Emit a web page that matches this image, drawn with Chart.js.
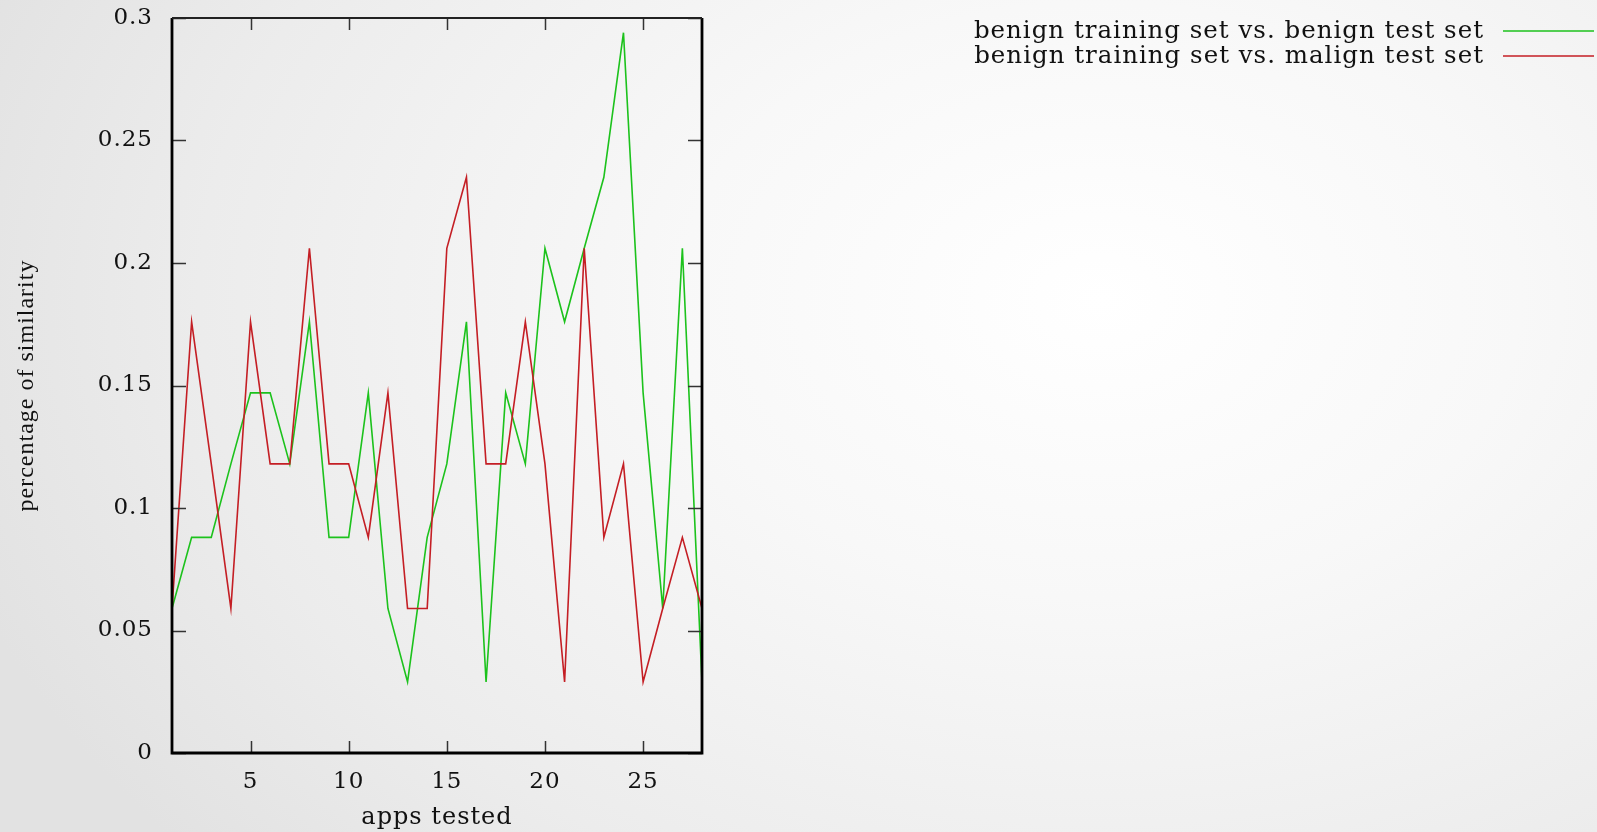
<!DOCTYPE html>
<html>
<head>
<meta charset="utf-8">
<title>apps tested vs similarity</title>
<script src="https://cdn.jsdelivr.net/npm/chart.js@4.4.1/dist/chart.umd.min.js"></script>
<style>
    html, body {
        margin: 0;
        padding: 0;
        width: 1597px;
        height: 832px;
        overflow: hidden;
    }
    body {
        background: radial-gradient(ellipse 1200px 850px at 1100px 300px, #ffffff 0%, #f8f8f8 35%, #ececec 75%, #e2e2e2 100%);
    }
    #wrap {
        position: absolute;
        left: 0;
        top: 0;
        width: 1597px;
        height: 832px;
    }
</style>
</head>
<body>
<div id="wrap"><canvas id="simChart"></canvas></div>
<script>
const appsTested = [1, 2, 3, 4, 5, 6, 7, 8, 9, 10, 11, 12, 13, 14, 15, 16, 17, 18, 19, 20, 21, 22, 23, 24, 25, 26, 27, 28];

const benignVsBenign = [0.059, 0.088, 0.088, 0.118, 0.147, 0.147, 0.118, 0.176, 0.088, 0.088, 0.147, 0.059, 0.029, 0.088,
    0.118, 0.176, 0.029, 0.147, 0.118, 0.206, 0.176, 0.206, 0.235, 0.294, 0.147, 0.059, 0.206, 0.029];

const benignVsMalign = [0.059, 0.176, 0.118, 0.059, 0.176, 0.118, 0.118, 0.206, 0.118, 0.118, 0.088, 0.147, 0.059, 0.059,
    0.206, 0.235, 0.118, 0.118, 0.176, 0.118, 0.029, 0.206, 0.088, 0.118, 0.029, 0.059, 0.088, 0.059];

const seriesLabels = ['benign training set vs. benign test set', 'benign training set vs. malign test set'];
const xTicks = [5, 10, 15, 20, 25];
const yTicks = [0, 0.05, 0.1, 0.15, 0.2, 0.25, 0.3];

const GREEN = '#1cc21c';
const RED = '#c41e24';
const SERIF = '"DejaVu Serif", serif';

const toPoints = values => appsTested.map((x, i) => ({ x: x, y: values[i] }));

// the reference font is wider than anything installed, so space the letters a little
const spacingPlugin = {
    id: 'spacing',
    beforeInit(chart) { chart.ctx.letterSpacing = '1px'; },
    beforeUpdate(chart) { chart.ctx.letterSpacing = '1px'; },
    beforeDraw(chart) { chart.ctx.letterSpacing = '1px'; }
};

// gnuplot style frame with inward ticks on all four sides
const framePlugin = {
    id: 'frame',
    afterDatasetsDraw(chart) {
        const { ctx, chartArea: a, scales } = chart;
        ctx.save();
        ctx.strokeStyle = '#333';
        ctx.lineWidth = 1.5;
        ctx.beginPath();
        xTicks.forEach(v => {
            const px = Math.round(scales.x.getPixelForValue(v)) + 0.5;
            ctx.moveTo(px, a.bottom); ctx.lineTo(px, a.bottom - 12);
            ctx.moveTo(px, a.top); ctx.lineTo(px, a.top + 12);
        });
        yTicks.forEach(v => {
            const py = Math.round(scales.y.getPixelForValue(v)) + 0.5;
            ctx.moveTo(a.left, py); ctx.lineTo(a.left + 14, py);
            ctx.moveTo(a.right, py); ctx.lineTo(a.right - 14, py);
        });
        ctx.stroke();

        ctx.strokeStyle = '#000';
        ctx.lineWidth = 2.8;
        ctx.beginPath();
        ctx.moveTo(a.left, a.top);
        ctx.lineTo(a.left, a.bottom);
        ctx.lineTo(a.right, a.bottom);
        ctx.lineTo(a.right, a.top);
        ctx.stroke();
        ctx.strokeStyle = '#222';
        ctx.lineWidth = 2;
        ctx.beginPath();
        ctx.moveTo(a.left, a.top);
        ctx.lineTo(a.right, a.top);
        ctx.stroke();
        ctx.restore();
    }
};

// key in the top right corner: text first, then the line sample
const keyPlugin = {
    id: 'key',
    afterDraw(chart) {
        const { ctx } = chart;
        ctx.save();
        ctx.font = '24.5px ' + SERIF;
        ctx.textAlign = 'right';
        ctx.textBaseline = 'middle';
        chart.data.datasets.slice().sort((p, q) => p.keyRow - q.keyRow).forEach((ds, i) => {
            const y = 32 + i * 25;
            ctx.fillStyle = '#111';
            ctx.fillText(ds.label, 1484, y);
            ctx.strokeStyle = ds.borderColor;
            ctx.lineWidth = 1.5;
            ctx.beginPath();
            ctx.moveTo(1503, y - 1);
            ctx.lineTo(1594, y - 1);
            ctx.stroke();
        });
        ctx.restore();
    }
};

new Chart(document.getElementById('simChart'), {
    type: 'line',
    data: {
        datasets: [
            {
                label: seriesLabels[0],
                data: toPoints(benignVsBenign),
                borderColor: GREEN,
                borderWidth: 1.6,
                pointRadius: 0,
                tension: 0,
                order: 1,
                keyRow: 0
            },
            {
                label: seriesLabels[1],
                data: toPoints(benignVsMalign),
                borderColor: RED,
                borderWidth: 1.6,
                pointRadius: 0,
                tension: 0,
                order: 0,
                keyRow: 1
            }
        ]
    },
    options: {
        responsive: true,
        maintainAspectRatio: false,
        animation: false,
        layout: {
            padding: { top: 18, right: 895, bottom: 0, left: 0 }
        },
        plugins: {
            legend: { display: false },
            tooltip: { enabled: false }
        },
        scales: {
            x: {
                type: 'linear',
                min: 1,
                max: 28,
                grid: { display: false, drawTicks: false },
                border: { display: false },
                afterBuildTicks: scale => { scale.ticks = xTicks.map(v => ({ value: v })); },
                afterFit: scale => {
                    scale.height = 79;
                    scale.paddingLeft = 0;
                    scale.paddingRight = 0;
                },
                ticks: {
                    padding: 15,
                    color: '#111',
                    maxRotation: 0,
                    font: { family: SERIF, size: 23 }
                },
                title: {
                    display: true,
                    text: 'apps tested',
                    color: '#111',
                    padding: { top: 0, bottom: 0 },
                    font: { family: SERIF, size: 24 }
                }
            },
            y: {
                min: 0,
                max: 0.3,
                grid: { display: false, drawTicks: false },
                border: { display: false },
                afterBuildTicks: scale => { scale.ticks = yTicks.map(v => ({ value: v })); },
                afterFit: scale => {
                    scale.width = 172;
                    scale.paddingTop = 0;
                    scale.paddingBottom = 0;
                },
                ticks: {
                    padding: 19,
                    color: '#111',
                    font: { family: SERIF, size: 23 },
                    callback: value => String(parseFloat(value.toFixed(2)))
                },
                title: {
                    display: true,
                    text: 'percentage of similarity',
                    color: '#111',
                    padding: { top: 12, bottom: 0 },
                    font: { family: '"Liberation Serif", serif', size: 24 }
                }
            }
        }
    },
    plugins: [spacingPlugin, framePlugin, keyPlugin]
});
</script>
</body>
</html>
